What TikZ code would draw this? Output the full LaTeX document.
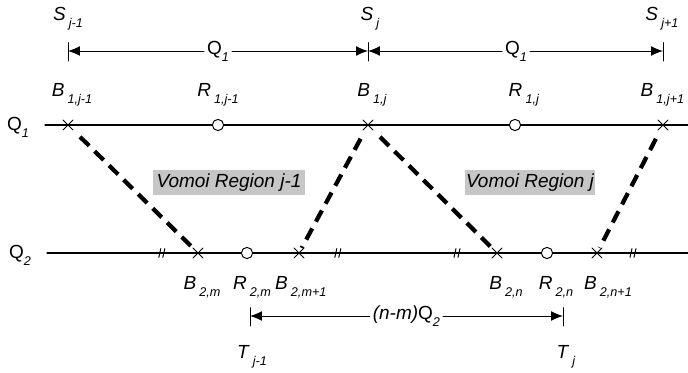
\documentclass[tikz,border=0pt]{standalone}
\usepackage{fontspec}
\setmainfont{Liberation Sans}
\usetikzlibrary{arrows.meta,shapes.misc}
\newcommand{\sublab}[2]{\textit{#1}\,\raisebox{-0.7ex}{\fontsize{9}{10}\selectfont\textit{#2}}}
\newcommand{\Qlab}[1]{Q\raisebox{-0.7ex}{\fontsize{9}{10}\selectfont\textit{#1}}}
\begin{document}
\begin{tikzpicture}[line cap=round,>={Latex[length=8.5pt,width=7pt]},
  every node/.style={font=\fontsize{13.5}{15}\selectfont},
  axis/.style={line width=0.8pt},
  bcross/.style={draw,cross out,minimum size=6.5pt,inner sep=0pt,line width=0.7pt},
  rdot/.style={draw,circle,fill=white,minimum size=8pt,inner sep=0pt,line width=0.7pt},
  bound/.style={line width=3pt,dash pattern=on 9pt off 5.5pt,line cap=butt,shorten <=7pt},
  dimline/.style={line width=0.7pt,->},
  tickline/.style={line width=0.7pt},
  dimlab/.style={inner sep=2pt},
  region/.style={fill=gray!45,inner sep=1pt,minimum height=0.62cm,font=\fontsize{13.5}{15}\selectfont\itshape},
  brk/.style={line width=0.7pt}]
  \useasboundingbox (0,0) rectangle (17.2,9.325);
  % top dimension S_{j-1} .. S_{j+1}
  \coordinate (sa) at (1.7,8.05);
  \coordinate (sb) at (9.2,8.05);
  \coordinate (sc) at (16.575,8.05);
  \draw[tickline] ([yshift=-7pt]sa) -- ([yshift=6pt]sa);
  \draw[tickline] ([yshift=-7pt]sb) -- ([yshift=6pt]sb);
  \draw[tickline] ([yshift=-7pt]sc) -- ([yshift=6pt]sc);
  \node[dimlab] (qa) at (5.45,8.05) {\Qlab{1}};
  \node[dimlab] (qb) at (12.9,8.05) {\Qlab{1}};
  \draw[dimline] (qa) -- (sa);
  \draw[dimline] (qa) -- (sb);
  \draw[dimline] (qb) -- (sb);
  \draw[dimline] (qb) -- (sc);
  \node (lsa) at (1.7,8.85) {\sublab{S}{j-1}};
  \node (lsb) at (9.25,8.85) {\sublab{S}{j}};
  \node (lsc) at (16.55,8.85) {\sublab{S}{j+1}};
  % Q1 line
  \coordinate (q1s) at (1.125,6.2);
  \coordinate (q1e) at (17.2,6.2);
  \draw[axis] (q1s) -- (q1e);
  \node (q1lab) at (0.45,6.15) {\Qlab{1}};
  \node[bcross] (b1a) at (1.7,6.2) {};
  \node[rdot] (r1a) at (5.45,6.2) {};
  \node[bcross] (b1b) at (9.2,6.2) {};
  \node[rdot] (r1b) at (12.875,6.2) {};
  \node[bcross] (b1c) at (16.575,6.2) {};
  \node (lb1a) at (1.8,6.95) {\sublab{B}{1,j-1}};
  \node (lr1a) at (5.45,6.95) {\sublab{R}{1,j-1}};
  \node (lb1b) at (9.3,6.95) {\sublab{B}{1,j}};
  \node (lr1b) at (13.1,6.95) {\sublab{R}{1,j}};
  \node (lb1c) at (16.56,6.95) {\sublab{B}{1,j+1}};
  % Q2 line
  \coordinate (q2s) at (1.175,3.0);
  \coordinate (q2e) at (17.2,3.0);
  \draw[axis] (q2s) -- (q2e);
  \node (q2lab) at (0.5,2.95) {\Qlab{2}};
  \draw[brk] (3.97,2.89) -- (4.02,3.11) (4.07,2.89) -- (4.12,3.11);
  \draw[brk] (8.37,2.89) -- (8.42,3.11) (8.47,2.89) -- (8.52,3.11);
  \draw[brk] (11.35,2.89) -- (11.4,3.11) (11.45,2.89) -- (11.5,3.11);
  \draw[brk] (15.75,2.89) -- (15.8,3.11) (15.85,2.89) -- (15.9,3.11);
  \node[bcross] (b2m) at (4.95,3.0) {};
  \node[rdot] (r2m) at (6.175,3.0) {};
  \node[bcross] (b2mp) at (7.475,3.0) {};
  \node[bcross] (b2n) at (12.425,3.0) {};
  \node[rdot] (r2n) at (13.675,3.0) {};
  \node[bcross] (b2np) at (14.925,3.0) {};
  \node (lb2m) at (5.05,2.15) {\sublab{B}{2,m}};
  \node (lr2m) at (6.3,2.15) {\sublab{R}{2,m}};
  \node (lb2mp) at (7.52,2.15) {\sublab{B}{2,m+1}};
  \node (lb2n) at (12.65,2.15) {\sublab{B}{2,n}};
  \node (lr2n) at (13.9,2.15) {\sublab{R}{2,n}};
  \node (lb2np) at (15.2,2.15) {\sublab{B}{2,n+1}};
  % region boundaries
  \draw[bound] (b1a) -- (b2m);
  \draw[bound] (b1b) -- (b2mp);
  \draw[bound] (b1b) -- (b2n);
  \draw[bound] (b1c) -- (b2np);
  \node[region,minimum width=3.8cm] (vr1) at (5.725,4.76) {Vomoi Region j-1};
  \node[region,minimum width=3.25cm] (vr2) at (13.25,4.76) {Vomoi Region j};
  % bottom dimension T_{j-1} .. T_j
  \coordinate (ta) at (6.25,1.425);
  \coordinate (tb) at (14.075,1.425);
  \draw[tickline] ([yshift=-7pt]ta) -- ([yshift=6pt]ta);
  \draw[tickline] ([yshift=-7pt]tb) -- ([yshift=6pt]tb);
  \node[dimlab] (nm) at (10.16,1.425) {\textit{(n-m)}\Qlab{2}};
  \draw[dimline] (nm) -- (ta);
  \draw[dimline] (nm) -- (tb);
  \node (lta) at (6.3,0.4) {\sublab{T}{j-1}};
  \node (ltb) at (14.15,0.4) {\sublab{T}{j}};
\end{tikzpicture}
\end{document}
